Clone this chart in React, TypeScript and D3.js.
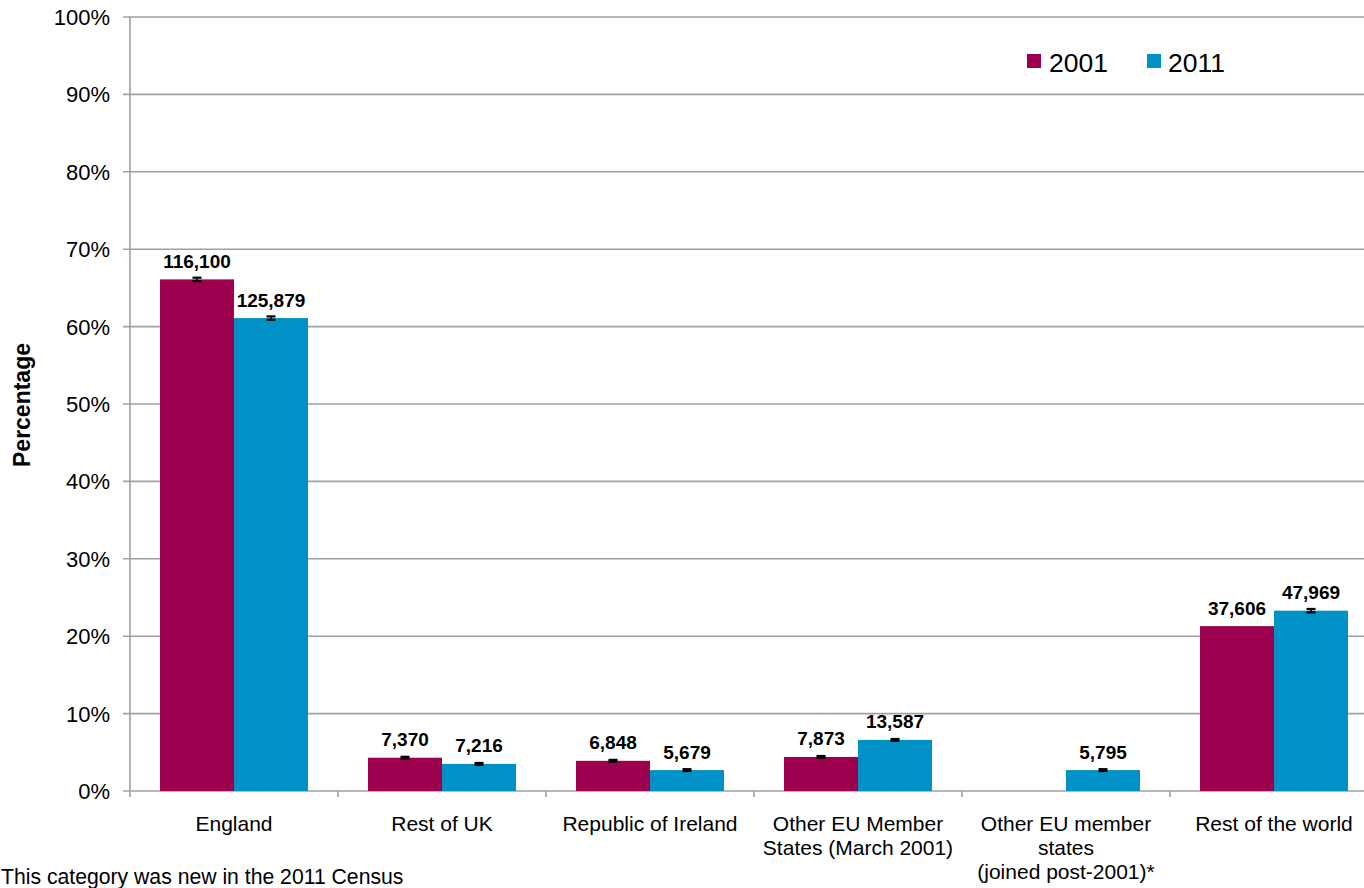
import React from "react";
import * as d3 from "d3";

const categoryLines: string[][] = [
  ["England"],
  ["Rest of UK"],
  ["Republic of Ireland"],
  ["Other EU Member", "States (March 2001)"],
  ["Other EU member", "states", "(joined post-2001)*"],
  ["Rest of the world"],
];
const categories = categoryLines.map((l) => l.join(" "));
const seriesNames = ["2001", "2011"];
const pct2001: (number | null)[] = [66.1, 4.3, 3.9, 4.4, null, 21.3];
const pct2011: (number | null)[] = [61.1, 3.5, 2.7, 6.6, 2.7, 23.3];
const counts2001: (string | null)[] = ["116,100", "7,370", "6,848", "7,873", null, "37,606"];
const counts2011: (string | null)[] = ["125,879", "7,216", "5,679", "13,587", "5,795", "47,969"];
const err2001: (number | null)[] = [0.22, 0.12, 0.12, 0.12, null, null];
const err2011: (number | null)[] = [0.22, 0.12, 0.12, 0.12, 0.12, 0.22];
const yTicks = [0, 10, 20, 30, 40, 50, 60, 70, 80, 90, 100];
const colors = ["#9D004F", "#0091C7"];

const W = 1364;
const H = 888;
const font = "Arial, 'Liberation Sans', sans-serif";

export default function App() {
  const x0 = d3.scaleBand<string>().domain(categories).range([130, 1378]).paddingInner(0.2885).paddingOuter(0.14425);
  const x1 = d3.scaleBand<string>().domain(seriesNames).range([0, x0.bandwidth()]).padding(0);
  const y = d3.scaleLinear().domain([0, 100]).range([791, 17]);
  const step = x0.step();
  const series = [
    { name: "2001", vals: pct2001, counts: counts2001, errs: err2001, color: colors[0] },
    { name: "2011", vals: pct2011, counts: counts2011, errs: err2011, color: colors[1] },
  ];
  const grid = "#A0A0A0";

  return (
    <svg width={W} height={H} style={{ position: "absolute", left: 0, top: 0, display: "block" }} fontFamily={font}>
      <rect x={0} y={0} width={W} height={H} fill="#fff" />
      {yTicks.map((t) => (
        <g key={t}>
          <line x1={123} x2={1378} y1={y(t)} y2={y(t)} stroke={grid} strokeWidth={1.6} />
          <text x={110} y={y(t)} dy="0.36em" textAnchor="end" fontSize={22} fill="#000">{t}%</text>
        </g>
      ))}
      <line x1={130} x2={130} y1={y(100)} y2={y(0) + 6} stroke={grid} strokeWidth={1.6} />
      {categories.map((c, i) => (
        <line key={c} x1={130 + step * (i + 1)} x2={130 + step * (i + 1)} y1={y(0)} y2={y(0) + 6} stroke={grid} strokeWidth={1.6} />
      ))}
      {series.map((s) =>
        categories.map((c, i) => {
          const v = s.vals[i];
          if (v == null) return null;
          const bx = (x0(c) as number) + (x1(s.name) as number);
          const bw = x1.bandwidth();
          return <rect key={s.name + c} x={bx} y={y(v)} width={bw} height={y(0) - y(v)} fill={s.color} />;
        })
      )}
      {series.map((s) =>
        categories.map((c, i) => {
          const v = s.vals[i];
          const e = s.errs[i];
          if (v == null || e == null) return null;
          const cx = (x0(c) as number) + (x1(s.name) as number) + x1.bandwidth() / 2;
          return (
            <g key={"e" + s.name + c} stroke="#000" strokeWidth={2.2}>
              <line x1={cx} x2={cx} y1={y(v - e)} y2={y(v + e)} strokeWidth={1.5} />
              <line x1={cx - 4.5} x2={cx + 4.5} y1={y(v - e)} y2={y(v - e)} />
              <line x1={cx - 4.5} x2={cx + 4.5} y1={y(v + e)} y2={y(v + e)} />
            </g>
          );
        })
      )}
      {series.map((s) =>
        categories.map((c, i) => {
          const v = s.vals[i];
          const lbl = s.counts[i];
          if (v == null || lbl == null) return null;
          const cx = (x0(c) as number) + (x1(s.name) as number) + x1.bandwidth() / 2;
          return (
            <text key={"l" + s.name + c} x={cx} y={y(v) - 11.5} textAnchor="middle" fontSize={19} fontWeight="bold" fill="#000">{lbl}</text>
          );
        })
      )}
      {categoryLines.map((lines, i) => {
        const cx = (x0(categories[i]) as number) + x0.bandwidth() / 2;
        return (
          <text key={"c" + i} x={cx} y={831} textAnchor="middle" fontSize={21} fill="#000">
            {lines.map((ln, j) => (
              <tspan key={j} x={cx} dy={j === 0 ? 0 : 24}>{ln}</tspan>
            ))}
          </text>
        );
      })}
      <text transform="translate(30,405) rotate(-90)" textAnchor="middle" fontSize={23} fontWeight="bold" fill="#000">Percentage</text>
      {series.map((s, i) => (
        <g key={"lg" + s.name}>
          <rect x={1027 + i * 120} y={54} width={14} height={14} fill={s.color} />
          <text x={1049 + i * 119} y={72} fontSize={26.5} fill="#000">{s.name}</text>
        </g>
      ))}
      <text x={1} y={883.5} textAnchor="start" fontSize={21.2} fill="#000">This category was new in the 2011 Census</text>
    </svg>
  );
}
